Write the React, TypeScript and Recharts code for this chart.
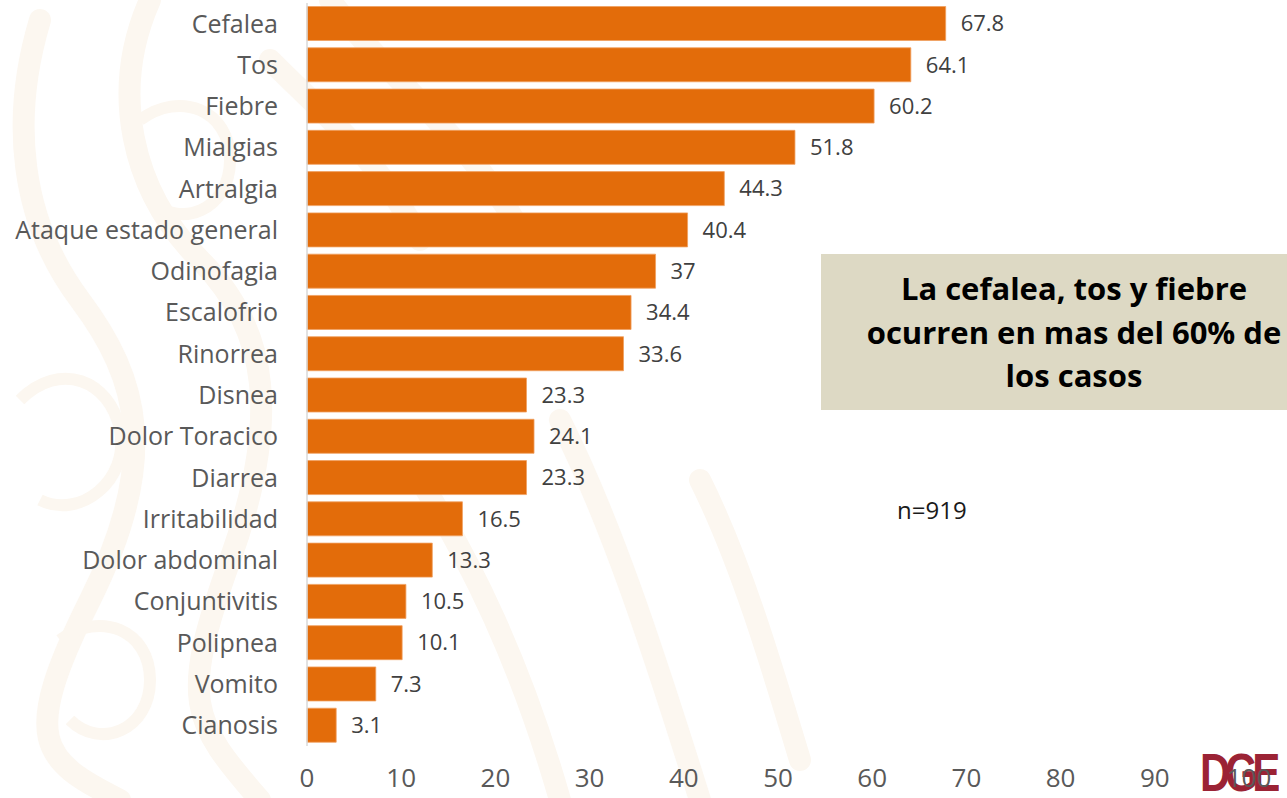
import React from "react";
import { BarChart, Bar, XAxis, YAxis, LabelList } from "recharts";

// Síntomas y porcentaje de casos (n=919)
const sintomas = [
  "Cefalea",
  "Tos",
  "Fiebre",
  "Mialgias",
  "Artralgia",
  "Ataque estado general",
  "Odinofagia",
  "Escalofrio",
  "Rinorrea",
  "Disnea",
  "Dolor Toracico",
  "Diarrea",
  "Irritabilidad",
  "Dolor abdominal",
  "Conjuntivitis",
  "Polipnea",
  "Vomito",
  "Cianosis",
];

const porcentajes = [
  67.8, 64.1, 60.2, 51.8, 44.3, 40.4, 37, 34.4, 33.6, 23.3, 24.1, 23.3, 16.5,
  13.3, 10.5, 10.1, 7.3, 3.1,
];

const xTicks = [0, 10, 20, 30, 40, 50, 60, 70, 80, 90, 100];

const chartData = sintomas.map((name, i) => ({ name, valor: porcentajes[i] }));

const W = 1287;
const H = 798;

function Watermark() {
  // very faint decorative swirl behind the chart
  const c = "#fcf7f0";
  return (
    <svg
      width={W}
      height={H}
      style={{ position: "absolute", left: 0, top: 0 }}
    >
      <g fill="none" stroke={c} strokeWidth={22} strokeLinecap="round">
        <path d="M40 20 C 10 120, 20 220, 80 300 S 160 460, 90 600 S 40 760, 120 800" />
        <path d="M150 0 C 110 90, 130 190, 200 260 S 280 420, 230 560 S 190 720, 260 800" />
        <path d="M270 60 C 330 120, 380 160, 420 240" />
        <path d="M330 0 C 390 80, 470 140, 520 230" />
        <path d="M420 480 C 470 560, 520 660, 560 800" />
        <path d="M560 420 C 610 520, 650 640, 700 800" />
        <path d="M700 480 C 740 560, 770 660, 800 760" />
      </g>
      <g fill="none" stroke={c} strokeWidth={12}>
        <path d="M20 400 C 60 360, 110 380, 120 430 S 80 520, 40 500" />
        <path d="M140 120 C 180 90, 230 110, 230 160 S 180 230, 150 200" />
        <path d="M60 640 C 100 610, 150 630, 150 680 S 100 750, 70 720" />
      </g>
    </svg>
  );
}

export default function App() {
  return (
    <div
      style={{
        position: "absolute",
        left: 0,
        top: 0,
        width: W,
        height: H,
        overflow: "hidden",
        background: "#ffffff",
        fontFamily: "'Open Sans', sans-serif",
      }}
    >
      <Watermark />
      {/* DGE logo, sits under the "100" tick */}
      <div
        style={{
          position: "absolute",
          left: 1200,
          top: 744,
          color: "#9b2335",
          fontFamily: "'Liberation Sans Narrow', 'Liberation Sans', sans-serif",
          fontWeight: 700,
          fontSize: 54,
          letterSpacing: -7,
          lineHeight: "56px",
          transform: "scaleX(0.78)",
          transformOrigin: "left top",
        }}
      >
        DGE
      </div>
      <div
        style={{
          position: "absolute",
          left: 821,
          top: 254,
          width: 480,
          height: 156,
          background: "#ddd9c4",
        }}
      />
      <div
        style={{
          position: "absolute",
          left: 844,
          top: 267,
          width: 460,
          textAlign: "center",
          fontWeight: 700,
          fontSize: 31,
          lineHeight: "43.5px",
          color: "#000000",
        }}
      >
        La cefalea, tos y fiebre
        <br />
        ocurren en mas del 60% de
        <br />
        los casos
      </div>
      <div
        style={{
          position: "absolute",
          left: 897,
          top: 493,
          fontSize: 24,
          color: "#1a1a1a",
        }}
      >
        n=919
      </div>
      <div style={{ position: "absolute", left: 0, top: 0 }}>
        <BarChart
          width={W}
          height={H}
          data={chartData}
          layout="vertical"
          margin={{ top: 3, right: 38, left: 0, bottom: 0 }}
          barCategoryGap="8.5%"
        >
          <XAxis
            type="number"
            domain={[0, 100]}
            ticks={xTicks}
            interval={0}
            height={52}
            axisLine={false}
            tickLine={false}
            tickSize={6}
            tickMargin={17}
            tick={{ fill: "#595959", fontSize: 26 }}
          />
          <YAxis
            type="category"
            dataKey="name"
            width={307}
            interval={0}
            axisLine={{ stroke: "#d9d9d9", strokeWidth: 1.5 }}
            tickLine={false}
            tickSize={6}
            tickMargin={23}
            tick={{ fill: "#595959", fontSize: 25 }}
          />
          <Bar
            dataKey="valor"
            fill="#e36c0a"
            stroke="#f0a060"
            strokeWidth={0.8}
            isAnimationActive={false}
          >
            <LabelList
              dataKey="valor"
              position="right"
              offset={15}
              fill="#404040"
              fontSize={22}
            />
          </Bar>
        </BarChart>
      </div>
    </div>
  );
}
